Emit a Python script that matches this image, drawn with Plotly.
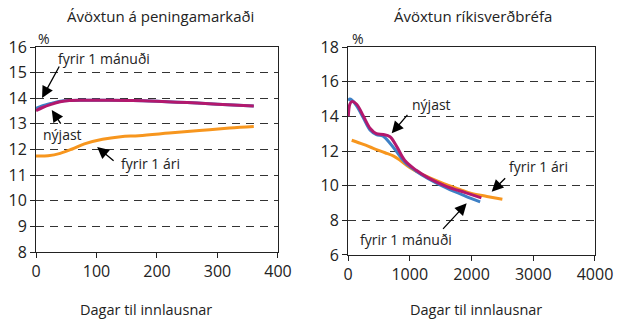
import plotly.graph_objects as go

# Peningamarkaður (left panel): days to maturity vs yield
pm_days = [0, 10, 25, 40, 55, 80, 120, 160, 200, 250, 300, 360]
pm_nyjast = [13.52, 13.63, 13.76, 13.86, 13.91, 13.92, 13.92, 13.91, 13.88, 13.83, 13.77, 13.70]
pm_manudur = [13.60, 13.70, 13.80, 13.88, 13.91, 13.92, 13.92, 13.91, 13.88, 13.83, 13.77, 13.70]
pm_ar_days = [0, 20, 40, 60, 80, 110, 140, 170, 220, 270, 320, 360]
pm_ar = [11.75, 11.76, 11.85, 12.02, 12.22, 12.40, 12.50, 12.54, 12.64, 12.74, 12.84, 12.90]

# Ríkisverðbréf (right panel)
rv_days_n = [5, 30, 60, 140, 250, 360, 460, 570, 680, 790, 920, 1100, 1300, 1600, 1900, 2160]
rv_nyjast = [14.0, 14.7, 14.85, 14.7, 14.0, 13.3, 13.0, 12.95, 12.82, 12.25, 11.45, 10.9, 10.45, 9.95, 9.6, 9.3]
rv_days_m = [5, 30, 60, 140, 250, 360, 460, 570, 680, 790, 920, 1100, 1300, 1600, 1900, 2140]
rv_manudur = [14.9, 15.0, 14.95, 14.6, 13.9, 13.2, 12.95, 12.85, 12.45, 11.95, 11.35, 10.85, 10.4, 9.85, 9.4, 9.07]
rv_days_a = [60, 250, 410, 600, 740, 850, 1000, 1200, 1550, 1800, 2000, 2250, 2500]
rv_ar = [12.62, 12.38, 12.15, 11.9, 11.7, 11.45, 11.05, 10.65, 10.12, 9.8, 9.55, 9.38, 9.22]

RED = "#B3186D"
BLUE = "#3D80C6"
ORANGE = "#F7961E"
FONT = "Open Sans"

fig = go.Figure()

def line(x, y, color, xa, ya):
    fig.add_trace(go.Scatter(x=x, y=y, mode="lines", line=dict(color=color, width=3, shape="spline"),
                             xaxis=xa, yaxis=ya, showlegend=False, hoverinfo="skip"))

line(pm_ar_days, pm_ar, ORANGE, "x", "y")
line(pm_days, pm_manudur, BLUE, "x", "y")
line(pm_days, pm_nyjast, RED, "x", "y")
line(rv_days_a, rv_ar, ORANGE, "x2", "y2")
line(rv_days_m, rv_manudur, BLUE, "x2", "y2")
line(rv_days_n, rv_nyjast, RED, "x2", "y2")

axis_style = dict(showline=True, linecolor="#222", linewidth=1, mirror=True,
                  ticks="outside", ticklen=5, tickcolor="#222",
                  tickfont=dict(size=16, color="#222", family=FONT), zeroline=False)

fig.update_layout(
    width=624, height=322,
    margin=dict(l=0, r=0, t=0, b=0, autoexpand=False),
    paper_bgcolor="white", plot_bgcolor="white",
    font=dict(family=FONT, color="#222"),
    xaxis=dict(domain=[0.0577, 0.4455], range=[0, 400], dtick=100, showgrid=False, **axis_style),
    yaxis=dict(domain=[0.2174, 0.854], range=[8, 16], dtick=1, showgrid=True,
               gridcolor="#333", gridwidth=1.3, griddash="8px,6px", **axis_style),
    xaxis2=dict(domain=[0.5577, 0.9535], range=[0, 4000], dtick=1000, showgrid=False,
                anchor="y2", **axis_style),
    yaxis2=dict(domain=[0.2081, 0.854], range=[6, 18], dtick=2, showgrid=True,
                gridcolor="#333", gridwidth=1.3, griddash="8px,6px", anchor="x2", **axis_style),
)

def text(x, y, s, size=14, xref="paper", yref="paper"):
    fig.add_annotation(x=x, y=y, xref=xref, yref=yref, text=s, showarrow=False,
                       xanchor="center", yanchor="middle",
                       font=dict(size=size, family=FONT, color="#222"))

def arrow(x, y, ax, ay, xr, yr):
    fig.add_annotation(x=x, y=y, xref=xr, yref=yr, text="", showarrow=True,
                       ax=ax, ay=ay, arrowhead=2, arrowsize=1.8, arrowwidth=1.3, arrowcolor="black")

# titles and axis captions
text(160 / 624, 1 - 16 / 322, "Ávöxtun á peningamarkaði", 15)
text(473 / 624, 1 - 16 / 322, "Ávöxtun ríkisverðbréfa", 15)
text(44 / 624, 1 - 38 / 322, "%", 14)
text(358 / 624, 1 - 38 / 322, "%", 14)
text(146 / 624, 1 - 309 / 322, "Dagar til innlausnar", 14.5)
text(476 / 624, 1 - 309 / 322, "Dagar til innlausnar", 14.5)

# labels in left panel
text(112, 15.56, "fyrir 1 mánuði", 14, "x", "y")
arrow(10, 14.01, 18, -33, "x", "y")
text(43, 12.57, "nýjast", 14, "x", "y")
arrow(26, 13.54, 10, 15, "x", "y")
text(190, 11.47, "fyrir 1 ári", 14, "x", "y")
arrow(101, 12.1, 18, 15, "x", "y")

# labels in right panel
text(1355, 14.71, "nýjast", 14, "x2", "y2")
arrow(708, 13.02, 17, -20, "x2", "y2")
text(3082, 11.09, "fyrir 1 ári", 14, "x2", "y2")
arrow(2327, 9.65, 15, -15, "x2", "y2")
text(936, 6.9, "fyrir 1 mánuði", 14, "x2", "y2")
arrow(1922, 8.98, -25, 27, "x2", "y2")

# page body has a default 8px margin; drop it so the figure fills the window
fig.write_html("out.html", config={"displayModeBar": False},
               post_script="document.body.style.margin='0';")
